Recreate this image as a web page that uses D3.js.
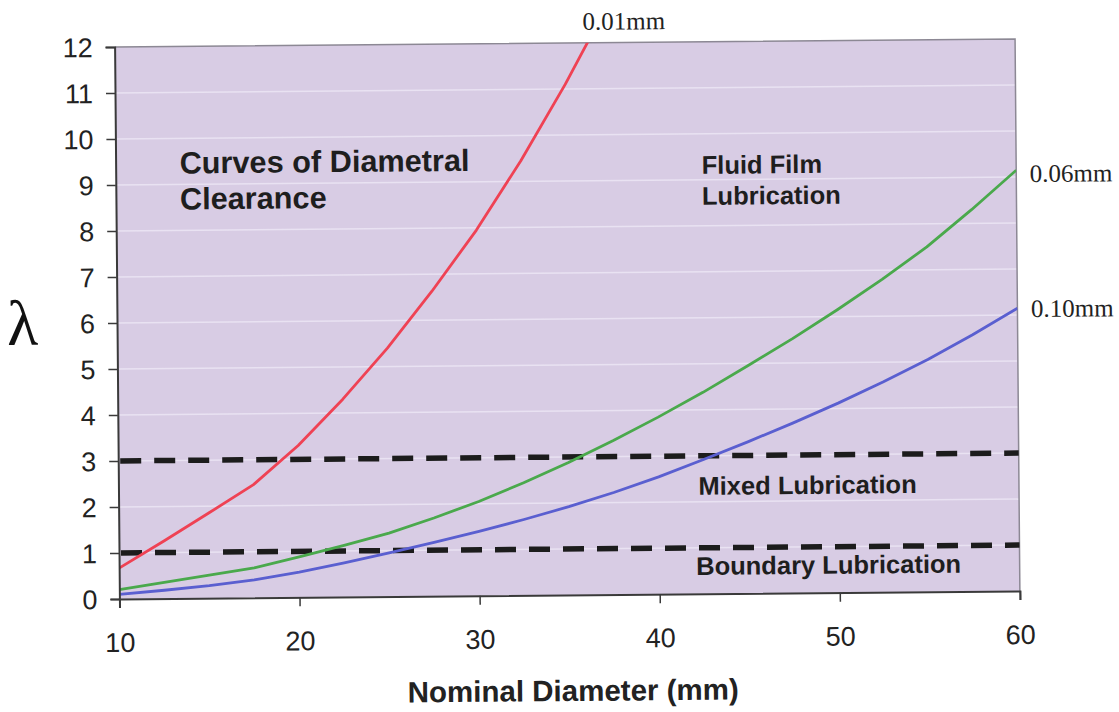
<!DOCTYPE html>
<html>
<head>
<meta charset="utf-8">
<script src="https://cdn.jsdelivr.net/npm/d3@7/dist/d3.min.js"></script>
<style>
  html, body { margin: 0; padding: 0; background: #ffffff; }
  svg { display: block; }
</style>
</head>
<body>
<svg id="chart" width="1119" height="712"></svg>
<script>
// ---- data ----
const diameters = [10, 12.5, 15, 17.5, 20, 22.5, 25, 27.5, 30, 32.5, 35, 37.5, 40, 42.5, 45, 47.5, 50, 52.5, 55, 57.5, 60];
const clearance001 = [0.67, 1.25, 1.85, 2.46, 3.3, 4.3, 5.4, 6.63, 7.95, 9.45, 11.1, 12.9];
const clearance006 = [0.2, 0.35, 0.5, 0.65, 0.88, 1.12, 1.38, 1.7, 2.05, 2.45, 2.88, 3.35, 3.85, 4.38, 4.95, 5.53, 6.15, 6.8, 7.5, 8.3, 9.15];
const clearance010 = [0.1, 0.18, 0.27, 0.39, 0.55, 0.74, 0.95, 1.17, 1.4, 1.65, 1.92, 2.22, 2.55, 2.92, 3.3, 3.7, 4.12, 4.57, 5.05, 5.58, 6.15];
const seriesNames = ["0.01mm", "0.06mm", "0.10mm"];
const regimeLimits = [3, 1];
const xTicks = [10, 20, 30, 40, 50, 60];
const yTicks = [0, 1, 2, 3, 4, 5, 6, 7, 8, 9, 10, 11, 12];

// ---- layout ----
const svg = d3.select("#chart");
const L = 117, R = 1017.5, T = 43, B = 595;
const x = d3.scaleLinear().domain([10, 60]).range([L, R]);
const y = d3.scaleLinear().domain([0, 12]).range([B, T]);

const root = svg.append("g").attr("transform", "rotate(-0.5, 568, 320)");

root.append("defs").append("clipPath").attr("id", "plotclip")
  .append("rect").attr("x", L).attr("y", T).attr("width", R - L).attr("height", B - T);

// plot background
root.append("rect").attr("x", L).attr("y", T).attr("width", R - L).attr("height", B - T)
  .attr("fill", "#d8cce4");

// gridlines
root.append("g").selectAll("line").data(yTicks.filter(d => d > 0 && d < 12)).join("line")
  .attr("x1", L).attr("x2", R).attr("y1", d => y(d)).attr("y2", d => y(d))
  .attr("stroke", "#e9e2f2").attr("stroke-width", 1.5);

// border (top/right)
root.append("path")
  .attr("d", `M${L},${T}H${R}V${B}`)
  .attr("fill", "none").attr("stroke", "#8c8894").attr("stroke-width", 1.5);

// regime dashed lines
root.append("g").selectAll("line").data(regimeLimits).join("line")
  .attr("x1", L + 2).attr("x2", R).attr("y1", d => y(d)).attr("y2", d => y(d))
  .attr("stroke", "#1c1c1c").attr("stroke-width", 5.5)
  .attr("stroke-dasharray", "21,13");

// curves
const line = d3.line().x(d => x(d[0])).y(d => y(d[1]));
const curves = [
  { vals: clearance001, color: "#ef4254" },
  { vals: clearance006, color: "#4aa94c" },
  { vals: clearance010, color: "#5a5fd0" }
];
const cg = root.append("g").attr("clip-path", "url(#plotclip)");
curves.forEach(c => {
  const pts = c.vals.map((v, i) => [diameters[i], v]);
  cg.append("path").datum(pts).attr("d", line)
    .attr("fill", "none").attr("stroke", c.color).attr("stroke-width", 2.8)
    .attr("stroke-linejoin", "round");
});

// axes
const yAxis = d3.axisLeft(y).tickValues(yTicks).tickSize(9).tickPadding(13).tickFormat(d3.format("d"));
const gy = root.append("g").attr("transform", `translate(${L},0)`).call(yAxis);
gy.select(".domain").attr("stroke", "#3a3a3a").attr("stroke-width", 2);
gy.selectAll(".tick line").attr("stroke", "#3a3a3a").attr("stroke-width", 1.5);
gy.selectAll(".tick text").attr("font-family", "'Liberation Sans', Arial, sans-serif")
  .attr("font-size", 27).attr("fill", "#222").attr("dy", "0.35em");

const xAxis = d3.axisBottom(x).tickValues(xTicks).tickSize(9).tickFormat(d3.format("d"));
const gx = root.append("g").attr("transform", `translate(0,${B})`).call(xAxis);
gx.select(".domain").attr("stroke", "#3a3a3a").attr("stroke-width", 2);
gx.selectAll(".tick line").attr("stroke", "#3a3a3a").attr("stroke-width", 1.5);
gx.selectAll(".tick text").attr("font-family", "'Liberation Sans', Arial, sans-serif")
  .attr("font-size", 27).attr("fill", "#222").attr("y", 53).attr("dy", 0);

// axis titles
root.append("text").attr("x", 570).attr("y", 701).attr("text-anchor", "middle")
  .attr("font-family", "'Liberation Sans', Arial, sans-serif").attr("font-weight", "bold")
  .attr("font-size", 29.5).attr("fill", "#222").text("Nominal Diameter (mm)");
root.append("text").attr("x", 7).attr("y", 340)
  .attr("font-family", "'Liberation Serif', 'Times New Roman', serif")
  .attr("font-size", 64).attr("fill", "#111").text("λ");

// annotations
const bold = (txt, xx, yy, size) => root.append("text").attr("x", xx).attr("y", yy)
  .attr("font-family", "'Liberation Sans', Arial, sans-serif").attr("font-weight", "bold")
  .attr("font-size", size).attr("fill", "#1e1e1e").text(txt);
bold("Curves of Diametral", 181, 170, 30.7);
bold("Clearance", 181, 206, 30.7);
bold("Fluid Film", 703, 175, 25.5);
bold("Lubrication", 703, 206, 25.5);
bold("Mixed Lubrication", 697, 496, 25.5);
bold("Boundary Lubrication", 694, 576, 25.5);

// series labels
const serif = (txt, xx, yy) => root.append("text").attr("x", xx).attr("y", yy)
  .attr("font-family", "'Liberation Serif', 'Times New Roman', serif")
  .attr("font-size", 25).attr("fill", "#222").text(txt);
serif(seriesNames[0], 585, 30);
serif(seriesNames[1], 1031, 186);
serif(seriesNames[2], 1031, 321);
</script>
</body>
</html>
